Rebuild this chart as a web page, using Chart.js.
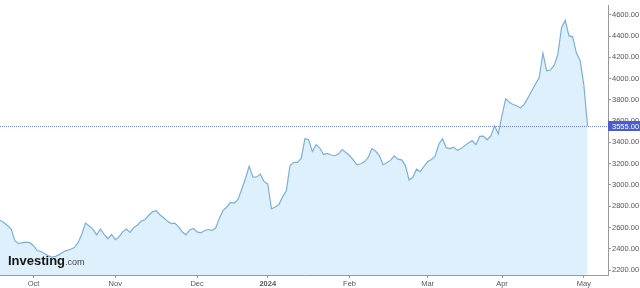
<!DOCTYPE html>
<html><head><meta charset="utf-8">
<script src="https://cdn.jsdelivr.net/npm/chart.js@4"></script>
<style>html,body{margin:0;padding:0;background:#fff}#wrap{width:640px;height:288px;position:relative}</style>
</head><body><div id="wrap"><canvas id="c" width="640" height="288"></canvas></div>
<script>
// Daily closing prices (one per trading day)
const prices = [
 2669,2646,2618,2586,2476,2448,2457,2462,2457,2429,
 2383,2374,2356,2333,2322,2328,2347,2370,2385,2395,
 2411,2457,2537,2641,2614,2582,2531,2586,2535,2494,
 2535,2485,2512,2559,2586,2554,2600,2623,2660,2674,
 2715,2747,2757,2720,2692,2660,2637,2641,2605,2559,
 2531,2577,2591,2559,2549,2572,2581,2572,2595,2688,
 2761,2793,2835,2830,2863,2959,3061,3176,3075,3075,
 3102,3033,3010,2775,2793,2816,2890,2946,3185,3213,
 3213,3250,3434,3425,3314,3379,3347,3287,3296,3282,
 3275,3291,3333,3305,3277,3236,3190,3199,3218,3259,
 3342,3319,3277,3190,3208,3231,3273,3243,3236,3185,
 3047,3070,3148,3125,3176,3218,3240,3268,3383,3434,
 3351,3342,3356,3325,3342,3370,3397,3416,3379,3457,
 3459,3425,3462,3557,3480,3655,3812,3775,3757,3745,
 3724,3761,3821,3886,3950,4010,4241,4073,4081,4125,
 4227,4480,4549,4402,4393,4241,4171,3941,3555
];
// Month tick labels and the trading-day index where each month starts
const monthLabels = ['Oct','Nov','Dec','2024','Feb','Mar','Apr','May'];
const monthStartIdx = [9,31,53,72,94,115,135,157];
// Price axis ticks
const yTicks = [2200,2400,2600,2800,3000,3200,3400,3600,3800,4000,4200,4400,4600];
const lastPrice = 3555;

const FONT = '"Liberation Sans", Arial, sans-serif';

const overlay = {
  id: 'overlay',
  afterDatasetsDraw(chart) {
    const ctx = chart.ctx;
    ctx.save();
    ctx.textBaseline = 'alphabetic';
    ctx.font = 'bold 13px ' + FONT;
    ctx.fillStyle = '#151515';
    ctx.fillText('Investing', 8, 265);
    const w = ctx.measureText('Investing').width;
    ctx.font = '9px ' + FONT;
    ctx.fillStyle = '#444';
    ctx.fillText('.com', 8 + w, 265);
    ctx.restore();
  },
  afterDraw(chart) {
    const ctx = chart.ctx, a = chart.chartArea;
    const y = Math.round(chart.scales.y.getPixelForValue(lastPrice)) + 0.5;
    ctx.save();
    ctx.strokeStyle = '#7385d6';
    ctx.lineWidth = 1;
    ctx.setLineDash([1, 1]);
    ctx.beginPath();
    ctx.moveTo(a.left, y);
    ctx.lineTo(a.right, y);
    ctx.stroke();
    ctx.setLineDash([]);
    ctx.fillStyle = '#4a5dcc';
    ctx.fillRect(a.right, y - 5.5, 640 - a.right, 10);
    ctx.fillStyle = '#fff';
    ctx.font = '7.5px ' + FONT;
    ctx.textBaseline = 'middle';
    ctx.fillText(lastPrice.toFixed(2), a.right + 4, y);
    ctx.restore();
  }
};

new Chart(document.getElementById('c'), {
  type: 'line',
  data: {
    datasets: [{
      data: prices.map((v, i) => ({ x: i, y: v })),
      borderColor: 'rgb(124,176,218)',
      borderWidth: 1.2,
      backgroundColor: 'rgb(222,240,251)',
      fill: 'start',
      pointRadius: 0,
      tension: 0
    }]
  },
  options: {
    responsive: false,
    animation: false,
    devicePixelRatio: 1,
    layout: { padding: 0 },
    plugins: { legend: { display: false }, tooltip: { enabled: false } },
    scales: {
      x: {
        type: 'linear',
        min: 0,
        max: 163.5,
        afterBuildTicks: s => { s.ticks = monthStartIdx.map(v => ({ value: v })); },
        afterFit: s => { s.height = 13; },
        grid: { drawOnChartArea: false, drawTicks: true, tickLength: 3, color: '#9a9a9a' },
        border: { display: true, color: '#9a9a9a' },
        ticks: {
          autoSkip: false,
          maxRotation: 0,
          padding: 1,
          color: '#555',
          font: ctx => ({ family: FONT, size: 7.5, weight: (ctx.tick && ctx.tick.value === 72) ? 'bold' : 'normal' }),
          callback: v => monthLabels[monthStartIdx.indexOf(v)]
        }
      },
      y: {
        position: 'right',
        min: 2153,
        max: 4688,
        afterBuildTicks: s => { s.ticks = yTicks.map(v => ({ value: v })); },
        afterFit: s => { s.width = 32; },
        grid: { drawOnChartArea: false, drawTicks: true, tickLength: 3, color: '#9a9a9a' },
        border: { display: true, color: '#9a9a9a' },
        ticks: {
          padding: 1,
          color: '#555',
          font: { family: FONT, size: 7.5 },
          callback: v => Number(v).toFixed(2)
        }
      }
    }
  },
  plugins: [overlay]
});
</script>
</body></html>
